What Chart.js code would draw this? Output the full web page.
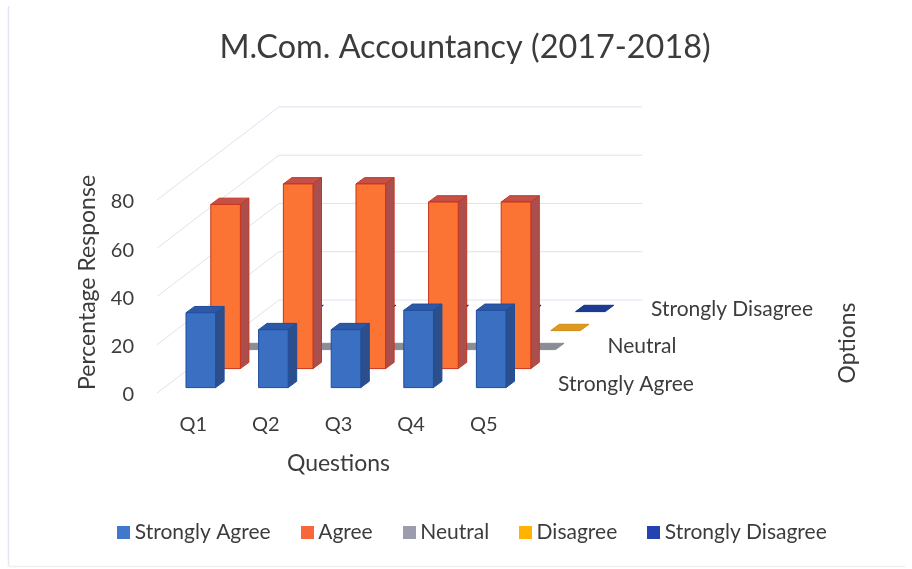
<!DOCTYPE html>
<html><head><meta charset="utf-8">
<style>html,body{margin:0;padding:0;background:#fff}canvas{display:block}</style>
<script src="https://cdn.jsdelivr.net/npm/chart.js@4"></script></head>
<body><canvas id="c" width="912" height="569" style="width:912px;height:569px"></canvas>
<script>
const questions = ['Q1','Q2','Q3','Q4','Q5'];
const stronglyAgree = [31,24,24,32,32];
const agree = [68,76.5,76.5,69,69];
const neutral = [0,0,0,0,0];
const disagree = [0,0,0,0,0];
const stronglyDisagree = [0,0,0,0,0];
const optionLabels = ['Strongly Agree','Neutral','Strongly Disagree'];
const optionRows = [0,2,4];
const yTicks = [0,20,40,60,80];

const FONT = 'Lato, Carlito, sans-serif';
const TXT = '#3c3c3c';
const DEPTH = {x:122, y:93};      // wall offset
const ROW = {x0:7.5, y0:5.4, dx:24.8, dy:19};
const BOX = {x:8.5, y:6.3};
const faces = [
 {front:'#3B6FC2', side:'#2C4F8C', top:'#2D58A6', line:'#1F4E9E'},
 {front:'#FB7433', side:'#A9504F', top:'#C4504A', line:'#C9331C'},
 {front:'#8F909A', side:'#8F909A', top:'#8A8C96', line:'#8A8C96'},
 {front:'#DE9A1E', side:'#DE9A1E', top:'#DE9A1E', line:'#D08C14'},
 {front:'#1D3A94', side:'#1D3A94', top:'#1D3A94', line:'#16307F'}
];
function poly(ctx, pts, fill, line){
  ctx.beginPath();pts.forEach((p,i)=>i?ctx.lineTo(p[0],p[1]):ctx.moveTo(p[0],p[1]));ctx.closePath();
  ctx.fillStyle=fill;ctx.fill();ctx.strokeStyle=line;ctx.lineWidth=1;ctx.stroke();
}
const box3d = {
  id:'box3d',
  afterLayout(chart){
    chart.titleBlock.left+=9;chart.titleBlock.right+=9;
    chart.legend.left+=19;chart.legend.right+=19;
    chart.legend.top-=16;chart.legend.bottom-=16;
  },
  beforeDatasetsDraw(chart){
    const {ctx,chartArea:a,scales:{y}}=chart;
    ctx.save();ctx.strokeStyle='#E6E6F6';ctx.lineWidth=1.5;
    ctx.beginPath();ctx.moveTo(8.5,6);ctx.lineTo(8.5,566);ctx.stroke();
    ctx.strokeStyle='#F0F0F4';ctx.beginPath();ctx.moveTo(8.5,566.5);ctx.lineTo(905,566.5);ctx.stroke();
    ctx.strokeStyle='#E0E0F0';ctx.lineWidth=1;
    yTicks.forEach(v=>{
      const p=y.getPixelForValue(v);
      ctx.beginPath();ctx.moveTo(a.left,p);ctx.lineTo(a.left+DEPTH.x,p-DEPTH.y);ctx.lineTo(a.right+DEPTH.x,p-DEPTH.y);ctx.stroke();
    });
    ctx.restore();
  },
  beforeDatasetDraw(chart,args){
    const {ctx}=chart, r=args.index, f=faces[r];
    const ox=ROW.x0+ROW.dx*r, oy=ROW.y0+ROW.dy*r;
    ctx.save();
    args.meta.data.forEach(b=>{
      const p=b.getProps(['x','y','base','width'],true);
      const l=p.x-p.width/2+ox, R=p.x+p.width/2+ox, t=p.y-oy, bt=p.base-oy;
      poly(ctx,[[l,t],[l+BOX.x,t-BOX.y],[R+BOX.x,t-BOX.y],[R,t]],f.top,f.line);
      if(bt>t) poly(ctx,[[R,t],[R+BOX.x,t-BOX.y],[R+BOX.x,bt-BOX.y],[R,bt]],f.side,f.line);
      if(bt>t) poly(ctx,[[l,t],[R,t],[R,bt],[l,bt]],f.front,f.line);
    });
    ctx.restore();
    return false;
  },
  afterDraw(chart){
    const {ctx,chartArea:a}=chart;
    ctx.save();ctx.fillStyle=TXT;ctx.font='21px '+FONT;ctx.textBaseline='middle';ctx.textAlign='left';
    optionLabels.forEach((t,i)=>ctx.fillText(t,a.right+38+23.25*optionRows[i]+(i===1?3:0),384-18.75*optionRows[i]));
    ctx.font='23px '+FONT;
    ctx.translate(848,343);ctx.rotate(-Math.PI/2);ctx.textAlign='center';ctx.fillText('Options',0,0);
    ctx.restore();
  }
};
const swatchColors=['#3F78CC','#F9663A','#9C9CAF','#FFB300','#2344B0'];
const swatches=swatchColors.map(c=>{const s=document.createElement('canvas');s.width=13;s.height=13;const g=s.getContext('2d');g.fillStyle=c;g.fillRect(0,0,13,13);return s;});
const names=['Strongly Agree','Agree','Neutral','Disagree','Strongly Disagree'];
const series=[stronglyAgree,agree,neutral,disagree,stronglyDisagree];
new Chart(document.getElementById('c'),{
  type:'bar',
  data:{labels:questions,datasets:names.map((n,i)=>({label:n,data:series[i],backgroundColor:swatchColors[i],barPercentage:0.408,categoryPercentage:1,grouped:false}))},
  plugins:[box3d],
  options:{
    responsive:false,animation:false,
    layout:{padding:0},
    plugins:{
      tooltip:{enabled:false},
      title:{display:true,text:'M.Com. Accountancy (2017-2018)',color:TXT,font:{family:FONT,size:32.4,weight:'normal'},padding:{top:28,bottom:133}},
      legend:{position:'bottom',labels:{color:TXT,font:{family:FONT,size:21},usePointStyle:true,pointStyleWidth:1,boxHeight:13,padding:36,
        generateLabels(ch){return Chart.defaults.plugins.legend.labels.generateLabels(ch).map((l,i)=>({...l,pointStyle:swatches[i]}));}}}
    },
    scales:{
      x:{grid:{display:false},border:{display:false},offset:true,
        ticks:{color:TXT,font:{family:FONT,size:20},padding:12,maxRotation:0},
        title:{display:true,text:'Questions',color:TXT,font:{family:FONT,size:23},padding:{top:10,bottom:25}},
        afterFit(s){s.height=176-(s.chart.legend?s.chart.legend.height:0);}},
      y:{min:0,max:80,grid:{display:false},border:{display:false},
        ticks:{color:TXT,font:{family:FONT,size:20},padding:15,stepSize:20,labelOffset:2},
        title:{display:true,text:'Percentage Response',color:TXT,font:{family:FONT,size:23},padding:{top:74,bottom:0}},
        afterFit(s){s.width=157;},
        afterUpdate(s){if(!s._moved){s._moved=true;const d=s.drawTitle;s.drawTitle=function(){const c=this.ctx;c.save();c.translate(0,-14);d.call(this);c.restore();};}}},
      y2:{position:'right',display:true,min:0,max:1,grid:{display:false},border:{display:false},ticks:{display:false},afterFit(s){s.width=392;}}
    }
  }
});
</script></body></html>
